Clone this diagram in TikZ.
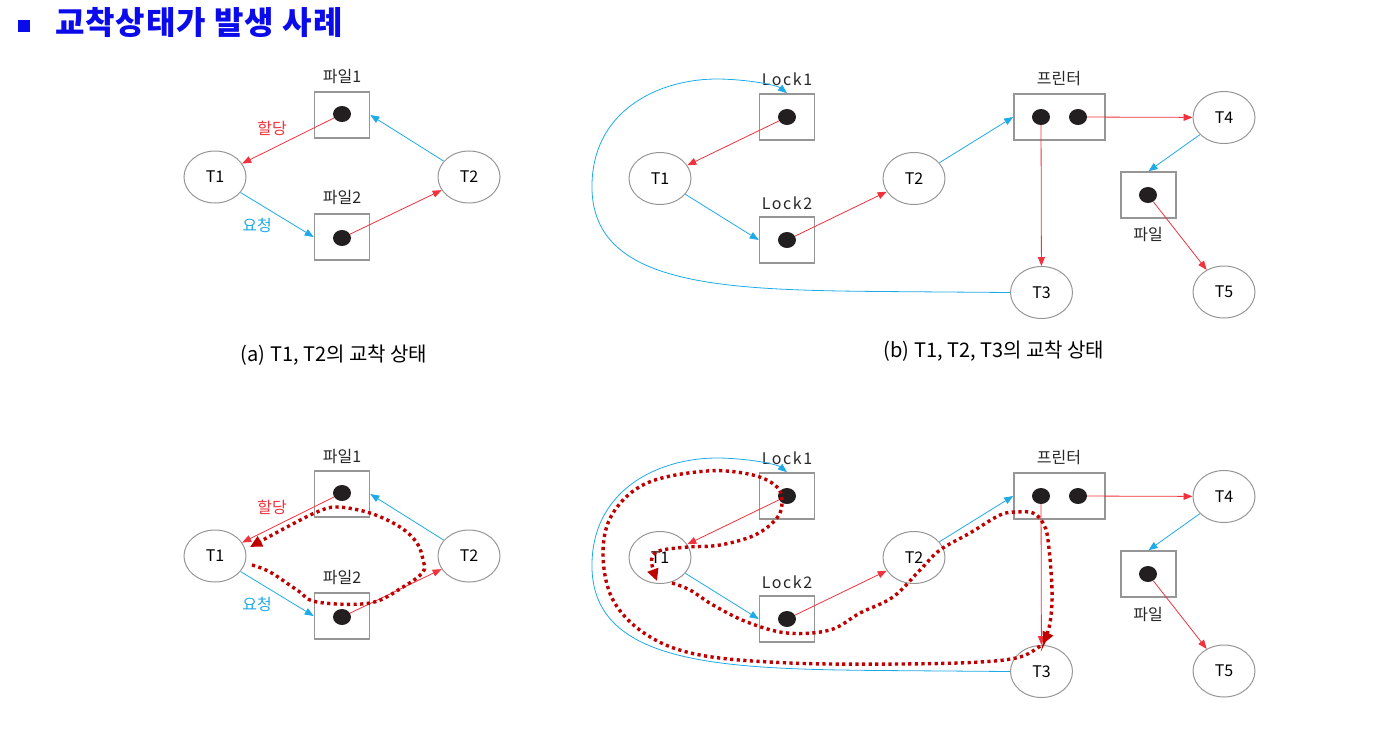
\documentclass[tikz,border=0pt]{standalone}
\usepackage{fontspec}
\setmainfont{Noto Sans CJK KR}
\usetikzlibrary{arrows.meta,shapes.geometric}
\definecolor{myred}{RGB}{240,50,60}
\definecolor{myblue}{RGB}{30,170,230}
\definecolor{dotc}{RGB}{35,31,32}
\definecolor{boxc}{RGB}{150,150,150}
\definecolor{dred}{RGB}{192,0,0}
\definecolor{titleblue}{RGB}{10,10,235}
\tikzset{
  proc/.style={ellipse, draw=boxc, line width=1pt, minimum width=62pt, minimum height=52pt, inner sep=0pt, font=\fontsize{16}{16}\selectfont},
  res/.style={rectangle, draw=boxc, line width=1.6pt, minimum width=55pt, minimum height=46pt, inner sep=0pt},
  tok/.style={ellipse, fill=dotc, minimum width=18pt, minimum height=16pt, inner sep=0pt},
  lbl/.style={font=\fontsize{16}{16}\selectfont, text=black!85, inner sep=0pt},
  locklbl/.style={font=\fontsize{16}{16}\selectfont\addfontfeature{LetterSpace=10}, text=black!85, inner sep=0pt},
  alloc/.style={draw=myred, line width=0.8pt, -{Triangle[length=9pt,width=7pt]}},
  req/.style={draw=myblue, line width=0.8pt, -{Triangle[length=9pt,width=7pt]}},
  cyc/.style={draw=dred, line width=3.4pt, dash pattern=on 3.2pt off 3.4pt, -{Triangle[length=12pt,width=11pt]}},
}
\newcommand\diagA{%
  \node[res] (F1) at (342,115) {};
  \node[tok] (d1) at (342,114) {};
  \node[lbl] (F1l) at (342,77) {파일1};
  \node[res] (F2) at (342,237) {};
  \node[tok] (d2) at (342,238) {};
  \node[lbl] (F2l) at (342,198) {파일2};
  \node[proc] (T1) at (215,177) {T1};
  \node[proc] (T2) at (469,177) {T2};
  \node[lbl, font=\fontsize{16}{16}\selectfont, text=myred] (al) at (272,128) {할당};
  \node[lbl, font=\fontsize{16}{16}\selectfont, text=myblue] (rq) at (257,225) {요청};
  \draw[alloc] (d1) -- (T1);
  \draw[req] (T1) -- (F2.west);
  \draw[alloc] (d2) -- (T2);
  \draw[req] (T2) -- (F1.east);
}
\newcommand\diagB{%
  \node[res] (L1) at (787,117) {};
  \node[tok] (e1) at (787,117) {};
  \node[locklbl] (L1l) at (787,79) {Lock1};
  \node[res] (L2) at (787,240) {};
  \node[tok] (e2) at (787,240) {};
  \node[locklbl] (L2l) at (787,203) {Lock2};
  \node[proc] (T1) at (660,178.5) {T1};
  \node[proc] (T2) at (914,178.5) {T2};
  \node[res, minimum width=91pt] (P) at (1059.5,117) {};
  \node[tok] (p1) at (1041,117) {};
  \node[tok] (p2) at (1078,117) {};
  \node[lbl] (Pl) at (1059,79) {프린터};
  \node[proc] (T3) at (1041.5,292.5) {T3};
  \node[proc] (T4) at (1224,117.5) {T4};
  \node[res] (F) at (1148.5,195) {};
  \node[tok] (f1) at (1148,195) {};
  \node[lbl] (Fl) at (1148,235) {파일};
  \node[proc] (T5) at (1224,292) {T5};
  \draw[alloc] (e1) -- (T1);
  \draw[req] (T1) -- (L2.west);
  \draw[alloc] (e2) -- (T2);
  \draw[req] (T2) -- (P.west);
  \draw[alloc] (p1) -- (T3);
  \draw[alloc] (p2) -- (T4);
  \draw[req] (T4) -- (F.north);
  \draw[alloc] (f1) -- (T5);
  \draw[req] (T3.west) -- (880,291.5) .. controls (720,290) and (595,285) .. (592,190)
     .. controls (590,110) and (660,78) .. (720,79) .. controls (755,80) and (778,86) .. (L1.north);
}
\begin{document}
\begin{tikzpicture}[x=1pt,y=-1pt]
\useasboundingbox (0,0) rectangle (1382,729);
\node[fill=titleblue, minimum size=12pt, inner sep=0pt] (bul) at (24,26) {};
\node[anchor=west, inner sep=0pt, font=\fontsize{32}{32}\selectfont\bfseries\addfontfeature{LetterSpace=3}, text=titleblue] (title) at (55,22) {교착상태가 발생 사례};
\begin{scope}[name prefix=a-]
\diagA
\end{scope}
\begin{scope}[name prefix=b-]
\diagB
\end{scope}
\node[font=\fontsize{20}{20}\selectfont, inner sep=0pt] (capa) at (334,355) {(a) T1, T2의 교착 상태};
\node[font=\fontsize{20}{20}\selectfont, inner sep=0pt] (capb) at (994,351) {(b) T1, T2, T3의 교착 상태};
\begin{scope}[shift={(0,379)}, name prefix=c-]
\diagA
\end{scope}
\begin{scope}[shift={(0,379)}, name prefix=d-]
\diagB
\end{scope}
% cycle in (c)
\draw[cyc] plot[smooth, tension=0.6] coordinates {(252,565) (270,572) (297,590) (317,602) (370,603) (403,587) (423,572) (423,560) (417,543) (400,527) (370,513) (337,507) (317,512) (287,527) (250,547)};
% cycle in (d)
\draw[cyc] plot[smooth, tension=0.6] coordinates {(1040,646) (1020,657) (980,662) (900,664) (790,663) (700,655) (647,635) (613,600) (603,553) (613,513) (647,483) (707,471) (753,475) (777,487) (782,502) (777,518) (755,535) (720,545) (688,547) (662,550) (653,555) (652,565) (657,581)};
\draw[cyc] plot[smooth, tension=0.6] coordinates {(672,583) (690,590) (713,605) (747,622) (787,633) (830,630) (860,613) (893,597) (920,570) (940,550) (970,533) (1000,515) (1017,512) (1033,513) (1043,523) (1048,540) (1052,590) (1050,623) (1043,644)};
\end{tikzpicture}
\end{document}
